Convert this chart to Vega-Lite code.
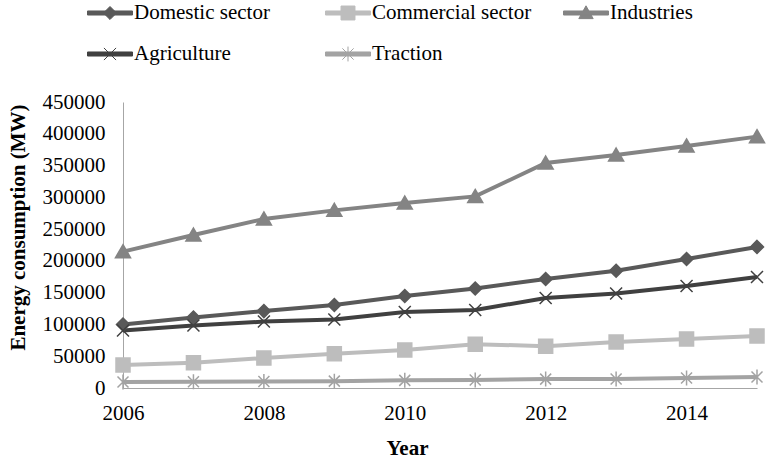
{
  "$schema": "https://vega.github.io/schema/vega-lite/v6.json",
  "autosize": "none",
  "width": 634,
  "height": 286,
  "padding": {"left": 123, "top": 102, "right": 10, "bottom": 73},
  "background": "white",
  "config": {
    "font": "Liberation Serif",
    "view": {"stroke": null},
    "legend": {"labelFont": "Liberation Serif"},
    "axis": {"labelFont": "Liberation Serif", "titleFont": "Liberation Serif"}
  },
  "data": {
    "values": [
      {"year": 2006, "sector": "Domestic sector", "value": 100000},
      {"year": 2007, "sector": "Domestic sector", "value": 111000},
      {"year": 2008, "sector": "Domestic sector", "value": 121000},
      {"year": 2009, "sector": "Domestic sector", "value": 130600},
      {"year": 2010, "sector": "Domestic sector", "value": 144700},
      {"year": 2011, "sector": "Domestic sector", "value": 156500},
      {"year": 2012, "sector": "Domestic sector", "value": 171500},
      {"year": 2013, "sector": "Domestic sector", "value": 184500},
      {"year": 2014, "sector": "Domestic sector", "value": 203000},
      {"year": 2015, "sector": "Domestic sector", "value": 222000},
      {"year": 2006, "sector": "Commercial sector", "value": 36200},
      {"year": 2007, "sector": "Commercial sector", "value": 39800},
      {"year": 2008, "sector": "Commercial sector", "value": 47200},
      {"year": 2009, "sector": "Commercial sector", "value": 54000},
      {"year": 2010, "sector": "Commercial sector", "value": 59800},
      {"year": 2011, "sector": "Commercial sector", "value": 69000},
      {"year": 2012, "sector": "Commercial sector", "value": 65800},
      {"year": 2013, "sector": "Commercial sector", "value": 72400},
      {"year": 2014, "sector": "Commercial sector", "value": 77100},
      {"year": 2015, "sector": "Commercial sector", "value": 81800},
      {"year": 2006, "sector": "Industries", "value": 214500},
      {"year": 2007, "sector": "Industries", "value": 240700},
      {"year": 2008, "sector": "Industries", "value": 266000},
      {"year": 2009, "sector": "Industries", "value": 279500},
      {"year": 2010, "sector": "Industries", "value": 291000},
      {"year": 2011, "sector": "Industries", "value": 301500},
      {"year": 2012, "sector": "Industries", "value": 354000},
      {"year": 2013, "sector": "Industries", "value": 366600},
      {"year": 2014, "sector": "Industries", "value": 380800},
      {"year": 2015, "sector": "Industries", "value": 395500},
      {"year": 2006, "sector": "Agriculture", "value": 90500},
      {"year": 2007, "sector": "Agriculture", "value": 98300},
      {"year": 2008, "sector": "Agriculture", "value": 104500},
      {"year": 2009, "sector": "Agriculture", "value": 107800},
      {"year": 2010, "sector": "Agriculture", "value": 119600},
      {"year": 2011, "sector": "Agriculture", "value": 122700},
      {"year": 2012, "sector": "Agriculture", "value": 141600},
      {"year": 2013, "sector": "Agriculture", "value": 148700},
      {"year": 2014, "sector": "Agriculture", "value": 160500},
      {"year": 2015, "sector": "Agriculture", "value": 174600},
      {"year": 2006, "sector": "Traction", "value": 9400},
      {"year": 2007, "sector": "Traction", "value": 9800},
      {"year": 2008, "sector": "Traction", "value": 10200},
      {"year": 2009, "sector": "Traction", "value": 10800},
      {"year": 2010, "sector": "Traction", "value": 12000},
      {"year": 2011, "sector": "Traction", "value": 12600},
      {"year": 2012, "sector": "Traction", "value": 14000},
      {"year": 2013, "sector": "Traction", "value": 14200},
      {"year": 2014, "sector": "Traction", "value": 15700},
      {"year": 2015, "sector": "Traction", "value": 17300}
    ]
  },
  "encoding": {
    "x": {
      "field": "year",
      "type": "quantitative",
      "scale": {"domain": [2006, 2015], "nice": false, "zero": false},
      "axis": {
        "values": [2006, 2008, 2010, 2012, 2014],
        "format": "d",
        "grid": false,
        "ticks": false,
        "domainColor": "#a6a6a6",
        "domainWidth": 1,
        "labelFont": "Liberation Serif",
        "labelFontSize": 21,
        "labelColor": "black",
        "labelPadding": 14,
        "labelFlush": false,
        "title": "Year",
        "titleFont": "Liberation Serif",
        "titleFontSize": 21,
        "titleFontWeight": "bold",
        "titleColor": "black",
        "titleX": 284,
        "titlePadding": 14
      }
    },
    "y": {
      "field": "value",
      "type": "quantitative",
      "scale": {"domain": [0, 450000], "nice": false},
      "axis": {
        "values": [0, 50000, 100000, 150000, 200000, 250000, 300000, 350000, 400000, 450000],
        "format": "d",
        "grid": false,
        "ticks": false,
        "domainColor": "#a6a6a6",
        "domainWidth": 1,
        "labelFont": "Liberation Serif",
        "labelFontSize": 21,
        "labelColor": "black",
        "labelPadding": 18,
        "title": "Energy consumption (MW)",
        "titleFont": "Liberation Serif",
        "titleFontSize": 21,
        "titleFontWeight": "bold",
        "titleColor": "black",
        "titleY": 125,
        "titlePadding": 14
      }
    },
    "color": {
      "field": "sector",
      "type": "nominal",
      "scale": {
        "domain": ["Domestic sector", "Commercial sector", "Industries", "Agriculture", "Traction"],
        "range": ["#595959", "#bdbdbd", "#848484", "#404040", "#a3a3a3"]
      },
      "legend": {
        "orient": "none",
        "legendX": -36,
        "legendY": -112,
        "columns": 3,
        "direction": "horizontal",
        "gridAlign": "all",
        "columnPadding": 29,
        "rowPadding": 8,
        "padding": 0,
        "title": null,
        "symbolSize": 2025,
        "symbolType": "square",
        "labelFont": "Liberation Serif",
        "labelFontSize": 21,
        "labelColor": "black",
        "labelOffset": 1,
        "labelLimit": 400,
        "encode": {
          "symbols": {
            "update": {
              "fill": {"scale": "color", "field": "value"},
              "stroke": {"scale": "color", "field": "value"},
              "strokeWidth": {"value": 1},
              "opacity": {"value": 1},
              "shape": {"signal": "datum.value === 'Domestic sector' ? 'M-1,-0.09H1V0.09H-1Z M0,-0.29L0.29,0L0,0.29L-0.29,0Z' : datum.value === 'Commercial sector' ? 'M-1,-0.09H1V0.09H-1Z M-0.31,-0.31H0.31V0.31H-0.31Z' : datum.value === 'Industries' ? 'M-1,-0.09H1V0.09H-1Z M0,-0.32L0.32,0.25H-0.32Z' : datum.value === 'Agriculture' ? 'M-1,-0.09H1V0.09H-1Z M-0.27,-0.27L0.27,0.27M-0.27,0.27L0.27,-0.27' : 'M-1,-0.09H1V0.09H-1Z M-0.25,-0.25L0.25,0.25M-0.25,0.25L0.25,-0.25M0,-0.33V0.33'"}
            }
          },
          "labels": {
            "update": {
              "font": {"value": "Liberation Serif"}
            }
          }
        }
      }
    }
  },
  "layer": [
    {
      "mark": {"type": "line", "strokeWidth": 4},
      "encoding": {
        "order": {"field": "year"}
      }
    },
    {
      "transform": [{"filter": "datum.sector === 'Domestic sector'"}],
      "mark": {"type": "point", "filled": true, "size": 400, "strokeWidth": 1.5, "opacity": 1, "shape": "M0,-0.65L0.65,0L0,0.65L-0.65,0Z"},
      "encoding": {
        "stroke": {"field": "sector", "type": "nominal", "scale": {"domain": ["Domestic sector", "Commercial sector", "Industries", "Agriculture", "Traction"], "range": ["#595959", "#bdbdbd", "#848484", "#404040", "#a3a3a3"]}, "legend": null}
      }
    },
    {
      "transform": [{"filter": "datum.sector === 'Commercial sector'"}],
      "mark": {"type": "point", "filled": true, "size": 400, "strokeWidth": 1.5, "opacity": 1, "shape": "M-0.7,-0.7H0.7V0.7H-0.7Z"},
      "encoding": {
        "stroke": {"field": "sector", "type": "nominal", "scale": {"domain": ["Domestic sector", "Commercial sector", "Industries", "Agriculture", "Traction"], "range": ["#595959", "#bdbdbd", "#848484", "#404040", "#a3a3a3"]}, "legend": null}
      }
    },
    {
      "transform": [{"filter": "datum.sector === 'Industries'"}],
      "mark": {"type": "point", "filled": true, "size": 400, "strokeWidth": 1.5, "opacity": 1, "shape": "M0,-0.7L0.75,0.6H-0.75Z"},
      "encoding": {
        "stroke": {"field": "sector", "type": "nominal", "scale": {"domain": ["Domestic sector", "Commercial sector", "Industries", "Agriculture", "Traction"], "range": ["#595959", "#bdbdbd", "#848484", "#404040", "#a3a3a3"]}, "legend": null}
      }
    },
    {
      "transform": [{"filter": "datum.sector === 'Agriculture'"}],
      "mark": {"type": "point", "filled": true, "size": 400, "strokeWidth": 1.5, "opacity": 1, "shape": "M-0.6,-0.6L0.6,0.6M-0.6,0.6L0.6,-0.6"},
      "encoding": {
        "stroke": {"field": "sector", "type": "nominal", "scale": {"domain": ["Domestic sector", "Commercial sector", "Industries", "Agriculture", "Traction"], "range": ["#595959", "#bdbdbd", "#848484", "#404040", "#a3a3a3"]}, "legend": null}
      }
    },
    {
      "transform": [{"filter": "datum.sector === 'Traction'"}],
      "mark": {"type": "point", "filled": true, "size": 400, "strokeWidth": 1.5, "opacity": 1, "shape": "M-0.55,-0.55L0.55,0.55M-0.55,0.55L0.55,-0.55M0,-0.75V0.75"},
      "encoding": {
        "stroke": {"field": "sector", "type": "nominal", "scale": {"domain": ["Domestic sector", "Commercial sector", "Industries", "Agriculture", "Traction"], "range": ["#595959", "#bdbdbd", "#848484", "#404040", "#a3a3a3"]}, "legend": null}
      }
    }
  ]
}
